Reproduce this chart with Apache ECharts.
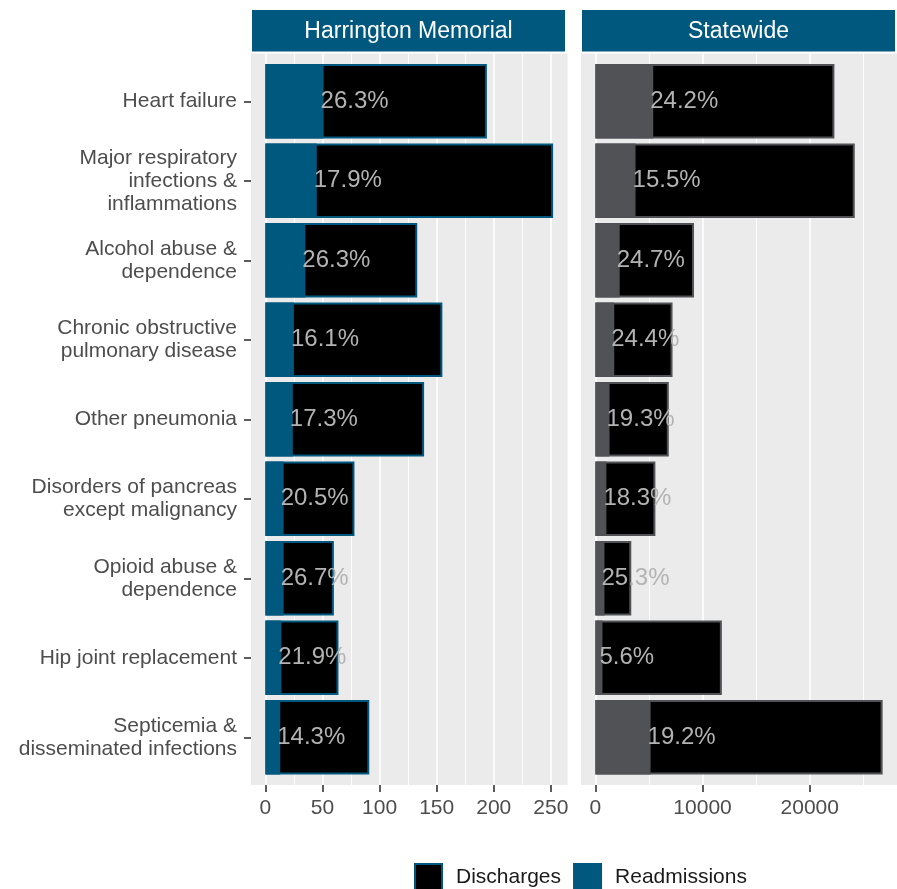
<!DOCTYPE html>
<html>
<head>
<meta charset="utf-8">
<script src="https://cdn.jsdelivr.net/npm/echarts@6/dist/echarts.min.js"></script>
<style>
html,body{margin:0;padding:0;background:#fff;}
#chart{width:897px;height:889px;}
</style>
</head>
<body>
<div id="chart"></div>
<script>
// ---- data ----
const categories = [
  'Heart failure',
  'Major respiratory\ninfections &\ninflammations',
  'Alcohol abuse &\ndependence',
  'Chronic obstructive\npulmonary disease',
  'Other pneumonia',
  'Disorders of pancreas\nexcept malignancy',
  'Opioid abuse &\ndependence',
  'Hip joint replacement',
  'Septicemia &\ndisseminated infections'
];
const panels = ['Harrington Memorial', 'Statewide'];
const hospDischarges   = [194, 252, 133, 155, 139, 78, 60, 64, 91];
const hospReadmissions = [51, 45, 35, 25, 24, 16, 16, 14, 13];
const hospPct = ['26.3%', '17.9%', '26.3%', '16.1%', '17.3%', '20.5%', '26.7%', '21.9%', '14.3%'];
const stateDischarges   = [22300, 24200, 9200, 7200, 6850, 5600, 3350, 11800, 26800];
const stateReadmissions = [5400, 3750, 2270, 1760, 1320, 1030, 850, 660, 5150];
const statePct = ['24.2%', '15.5%', '24.7%', '24.4%', '19.3%', '18.3%', '25.3%', '5.6%', '19.2%'];
const hospMajorTicks = [0, 50, 100, 150, 200, 250];
const hospMinorTicks = [25, 75, 125, 175, 225];
const stateMajorTicks = [0, 10000, 20000];
const stateMinorTicks = [5000, 15000, 25000];

// ---- styles ----
const FONT = '"Liberation Sans", Arial, Helvetica, sans-serif';
const BLUE = '#00587f';
const GREY = '#505256';
const PANEL_BG = '#ebebeb';

// ggplot-like expansion (5%)
function ext(arr) { const m = Math.max.apply(null, arr); return [-0.05 * m, 1.05 * m]; }
const hExt = ext(hospDischarges);
const sExt = ext(stateDischarges);

const P = [
  {left: 251, width: 316.5},
  {left: 581, width: 316.5}
];
const BG_TOP = 53.5, BG_H = 731.5;       // panel background extent
const D_TOP = 61.5, D_H = 715.5;         // data band extent (ggplot 0.6 expansion)

const chart = echarts.init(document.getElementById('chart'), null, {renderer: 'canvas'});

function bgXAxis(gridIndex, e, ticks, major) {
  return {
    type: 'value', gridIndex: gridIndex, min: e[0], max: e[1],
    position: major ? 'bottom' : 'top',
    axisLine: {show: false, onZero: false},
    axisTick: major ? {show: true, length: 7, lineStyle: {color: '#333', width: 1.6}, customValues: ticks}
                    : {show: false, customValues: ticks},
    axisLabel: major ? {show: true, customValues: ticks, margin: 13, color: '#4d4d4d', fontSize: 21, fontFamily: FONT,
                        formatter: v => String(v)}
                     : {show: false, customValues: ticks},
    splitLine: {show: true, lineStyle: {color: '#ffffff', width: major ? 1.6 : 0.9}},
    minorSplitLine: {show: false}
  };
}

const option = {
  animation: false,
  backgroundColor: '#ffffff',
  textStyle: {fontFamily: FONT},
  grid: [
    {left: P[0].left, top: BG_TOP, width: P[0].width, height: BG_H, show: true, backgroundColor: PANEL_BG, borderWidth: 0, containLabel: false},
    {left: P[1].left, top: BG_TOP, width: P[1].width, height: BG_H, show: true, backgroundColor: PANEL_BG, borderWidth: 0, containLabel: false},
    {left: P[0].left, top: D_TOP, width: P[0].width, height: D_H, containLabel: false},
    {left: P[1].left, top: D_TOP, width: P[1].width, height: D_H, containLabel: false}
  ],
  xAxis: [
    bgXAxis(0, hExt, hospMinorTicks, false),
    bgXAxis(0, hExt, hospMajorTicks, true),
    bgXAxis(1, sExt, stateMinorTicks, false),
    bgXAxis(1, sExt, stateMajorTicks, true),
    {type: 'value', gridIndex: 2, min: hExt[0], max: hExt[1], show: false},
    {type: 'value', gridIndex: 3, min: sExt[0], max: sExt[1], show: false}
  ],
  yAxis: [
    {type: 'category', gridIndex: 0, data: categories, show: false},
    {type: 'category', gridIndex: 1, data: categories, show: false},
    {type: 'category', gridIndex: 2, data: categories, inverse: true,
      axisLine: {show: false, onZero: false},
      axisTick: {show: true, length: 7, alignWithLabel: true, lineStyle: {color: '#333', width: 1.6}},
      axisLabel: {show: true, margin: 14, color: '#4d4d4d', fontSize: 21, lineHeight: 23, fontFamily: FONT, align: 'right', interval: 0},
      splitLine: {show: false}
    },
    {type: 'category', gridIndex: 3, data: categories, inverse: true, show: false}
  ],
  legend: {
    left: 414, top: 863, padding: 0,
    itemWidth: 27, itemHeight: 27, itemGap: 12,
    icon: 'rect',
    textStyle: {fontSize: 21, color: '#1a1a1a', fontFamily: FONT, padding: [0, 0, 0, 9]},
    data: [
      {name: 'Discharges', itemStyle: {color: '#000000', borderColor: BLUE, borderWidth: 2}},
      {name: 'Readmissions', itemStyle: {color: BLUE, borderColor: BLUE, borderWidth: 2}}
    ]
  },
  graphic: [
    {type: 'rect', shape: {x: 252, y: 10, width: 313, height: 41.5}, style: {fill: BLUE}, silent: true},
    {type: 'rect', shape: {x: 582, y: 10, width: 313, height: 41.5}, style: {fill: BLUE}, silent: true},
    {type: 'text', x: 408.5, y: 31.5, style: {text: panels[0], fill: '#ffffff', font: '23px ' + FONT, textAlign: 'center', textVerticalAlign: 'middle'}, silent: true},
    {type: 'text', x: 738.5, y: 31.5, style: {text: panels[1], fill: '#ffffff', font: '23px ' + FONT, textAlign: 'center', textVerticalAlign: 'middle'}, silent: true}
  ],
  series: [
    {
      name: 'Discharges', type: 'bar', xAxisIndex: 4, yAxisIndex: 2,
      data: hospDischarges, barWidth: '94%', clip: false, z: 2,
      itemStyle: {color: '#000000', borderColor: BLUE, borderWidth: 2}
    },
    {
      name: 'Readmissions', type: 'bar', xAxisIndex: 4, yAxisIndex: 2,
      data: hospReadmissions, barWidth: '94%', barGap: '-100%', clip: false, z: 3,
      itemStyle: {color: BLUE, borderColor: BLUE, borderWidth: 2},
      label: {show: true, position: 'right', distance: -3, color: '#b3b3b3', fontSize: 24, fontFamily: FONT,
              formatter: p => hospPct[p.dataIndex]}
    },
    {
      name: 'Discharges', type: 'bar', xAxisIndex: 5, yAxisIndex: 3,
      data: stateDischarges, barWidth: '94%', clip: false, z: 2,
      itemStyle: {color: '#000000', borderColor: GREY, borderWidth: 2}
    },
    {
      name: 'Readmissions', type: 'bar', xAxisIndex: 5, yAxisIndex: 3,
      data: stateReadmissions, barWidth: '94%', barGap: '-100%', clip: false, z: 3,
      itemStyle: {color: GREY, borderColor: GREY, borderWidth: 2},
      label: {show: true, position: 'right', distance: -3, color: '#b3b3b3', fontSize: 24, fontFamily: FONT,
              formatter: p => statePct[p.dataIndex]}
    }
  ]
};
chart.setOption(option);
</script>
</body>
</html>
